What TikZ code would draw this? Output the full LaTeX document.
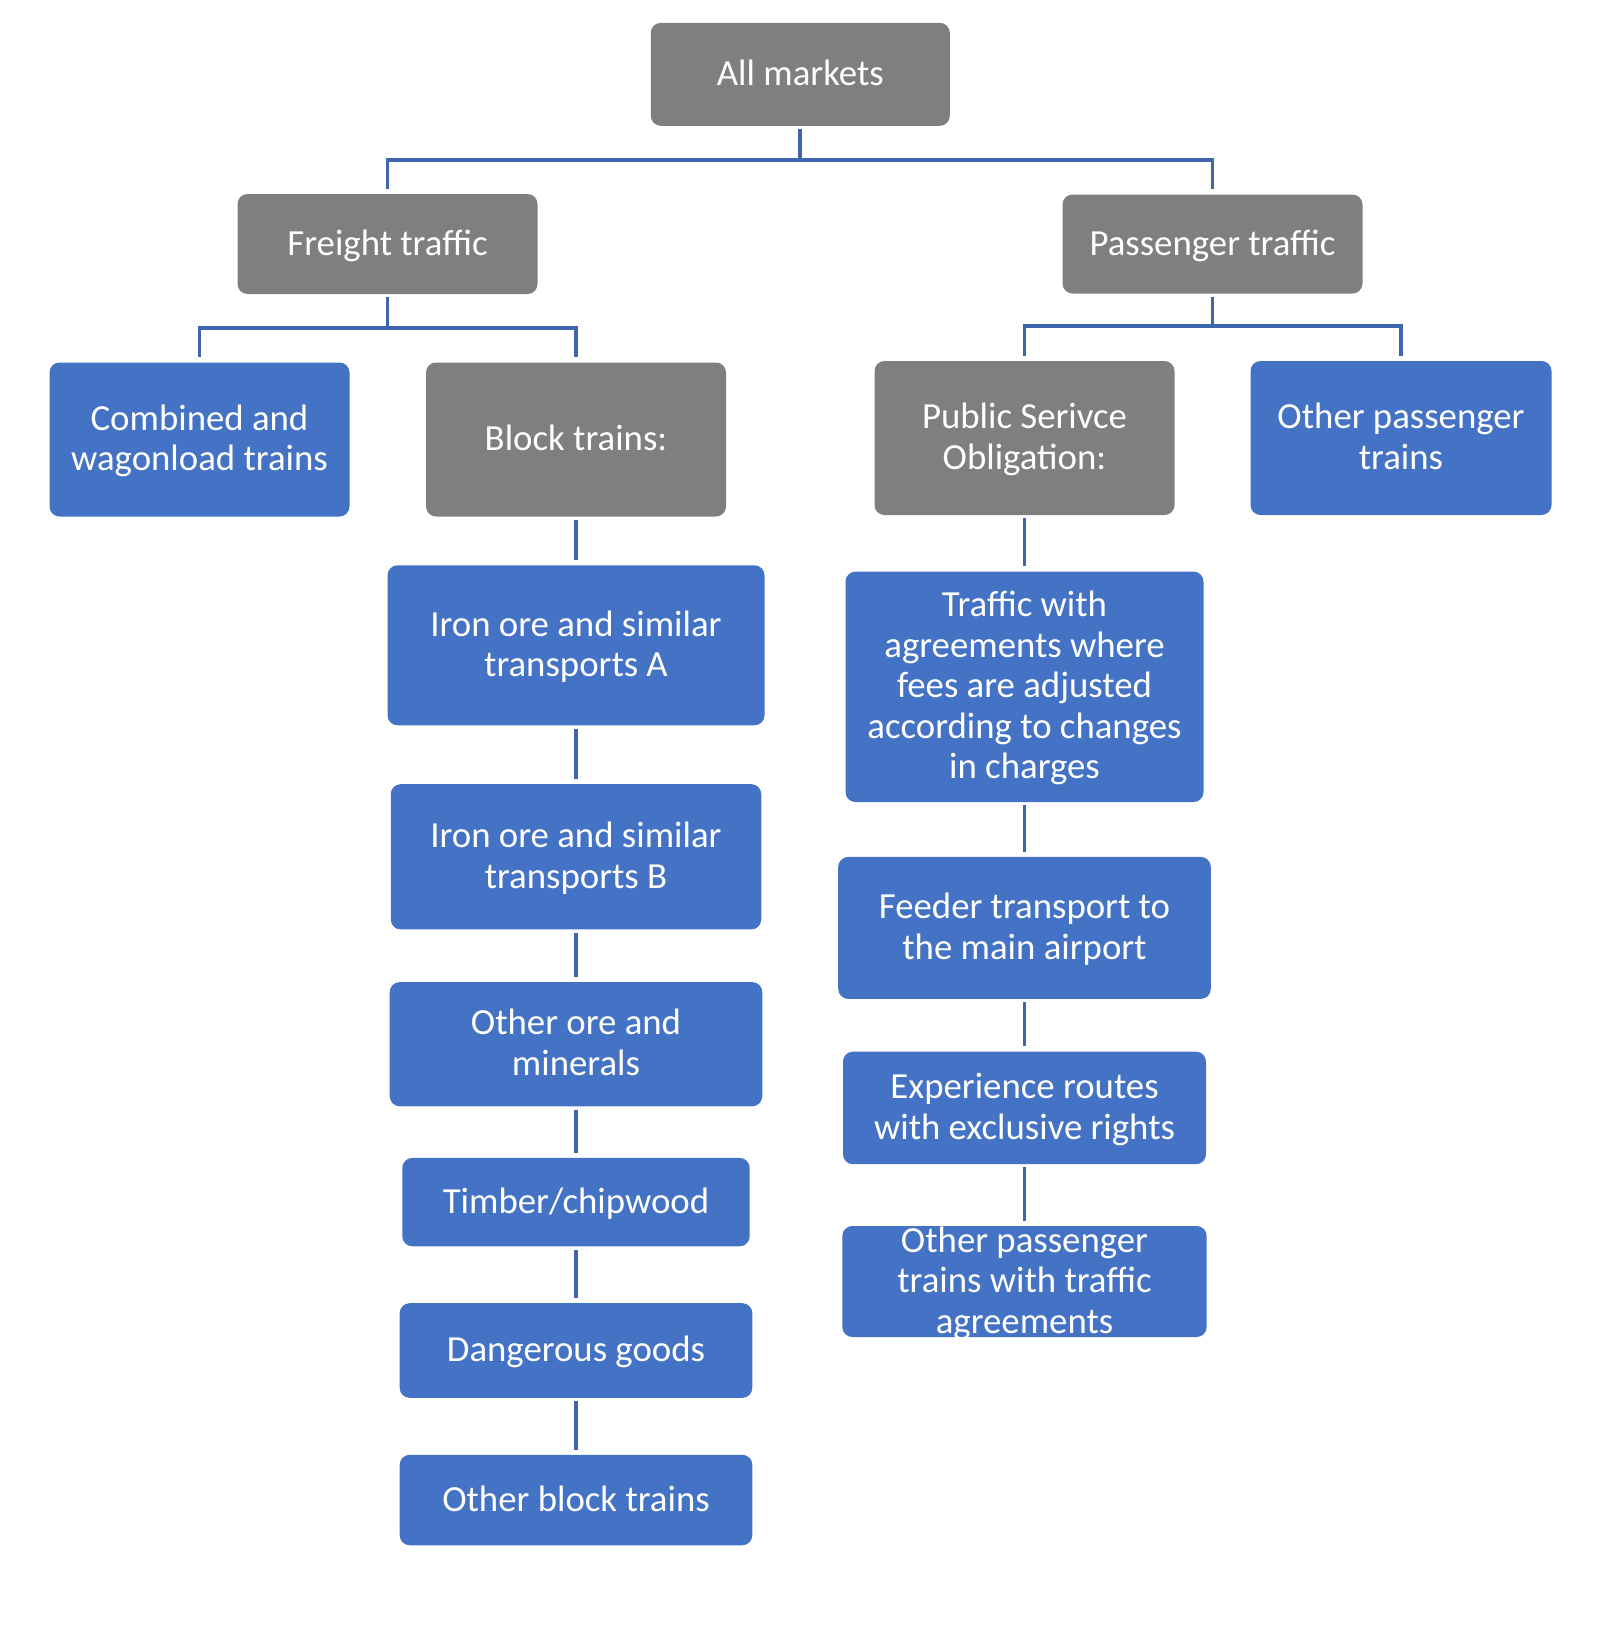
\documentclass[tikz,border=0pt]{standalone}
\usepackage{fontspec}
\setmainfont{Carlito}
\definecolor{boxgray}{HTML}{7F7F7F}
\definecolor{boxblue}{HTML}{4472C4}
\definecolor{linecol}{RGB}{62,102,176}
\newcommand\lnstrut{\rule[-9pt]{0pt}{40pt}}
\newcommand\boxfont{\fontsize{36.8pt}{40.5pt}\selectfont}
\begin{document}
\begin{tikzpicture}[x=1pt,y=-1pt,
  basebox/.style={rounded corners=10pt, inner sep=0pt, text=white, align=center, font=\boxfont, draw=none},
  gbox/.style={basebox, fill=boxgray},
  bbox/.style={basebox, fill=boxblue},
  txt/.style={inner sep=0pt, text=white, align=center, font=\boxfont},
  conn/.style={draw=linecol, line width=3.9pt, line join=miter}]
\useasboundingbox (0,0) rectangle (1600,1650);

% top levels
\node[gbox, minimum width=299pt, minimum height=103pt] (all) at (800.3,74.3) {\lnstrut All markets};
\node[gbox, minimum width=300pt, minimum height=100pt] (freight) at (387.5,244) {\lnstrut Freight traffic};
\node[gbox, minimum width=300pt, minimum height=99pt] (passenger) at (1212.5,244) {\lnstrut Passenger traffic};

% second level
\node[bbox, minimum width=300pt, minimum height=154pt] (combined) at (199.5,439.5) {\lnstrut Combined and\\\lnstrut wagonload trains};
\node[gbox, minimum width=300pt, minimum height=154pt] (block) at (576,439.5) {\lnstrut Block trains:};
\node[gbox, minimum width=300pt, minimum height=154pt] (pso) at (1024.5,438) {\lnstrut Public Serivce\\\lnstrut Obligation:};
\node[bbox, minimum width=301pt, minimum height=154pt] (otherpass) at (1401,438) {\lnstrut Other passenger\\\lnstrut trains};

% block trains chain
\node[bbox, minimum width=377pt, minimum height=160pt] (ironA) at (576,645.3) {\lnstrut Iron ore and similar\\\lnstrut transports A};
\node[bbox, minimum width=370.5pt, minimum height=145.3pt] (ironB) at (576,856.8) {\lnstrut Iron ore and similar\\\lnstrut transports B};
\node[bbox, minimum width=372.6pt, minimum height=124.2pt] (ore) at (576,1044.2) {\lnstrut Other ore and\\\lnstrut minerals};
\node[bbox, minimum width=347.4pt, minimum height=88.4pt] (timber) at (576,1202.1) {\lnstrut Timber/chipwood};
\node[bbox, minimum width=352.6pt, minimum height=94.7pt] (danger) at (576,1350.5) {\lnstrut Dangerous goods};
\node[bbox, minimum width=352.6pt, minimum height=90.5pt] (otherblock) at (576,1500) {\lnstrut Other block trains};

% PSO chain
\node[bbox, minimum width=358pt, minimum height=230.5pt] (trafficw) at (1024.5,686.8) {\lnstrut Traffic with\\\lnstrut agreements where\\\lnstrut fees are adjusted\\\lnstrut according to changes\\\lnstrut in charges};
\node[bbox, minimum width=372.6pt, minimum height=142pt] (feeder) at (1024.5,927.9) {\lnstrut Feeder transport to\\\lnstrut the main airport};
\node[bbox, minimum width=363pt, minimum height=112.6pt] (exper) at (1024.5,1107.9) {\lnstrut Experience routes\\\lnstrut with exclusive rights};
\node[bbox, minimum width=364.3pt, minimum height=111pt] (otherpw) at (1024.5,1281.5) {};
\node[txt] (otherpwtxt) at (otherpw.center) {\lnstrut Other passenger\\\lnstrut trains with traffic\\\lnstrut agreements};

% junctions
\coordinate (j0) at (800.3,160);
\coordinate (jf) at (387.5,328);
\coordinate (jp) at (1212.5,326);

% connectors
\draw[conn] ([yshift=-3pt]all.south) -- (j0);
\draw[conn] ([yshift=5pt]freight.north) |- (j0) -| ([yshift=5pt]passenger.north);
\draw[conn] ([yshift=-3pt]freight.south) -- (jf);
\draw[conn] ([yshift=5pt]combined.north) |- (jf) -| ([yshift=5pt]block.north);
\draw[conn] ([yshift=-3pt]passenger.south) -- (jp);
\draw[conn] ([yshift=5pt]pso.north) |- (jp) -| ([yshift=5pt]otherpass.north);

\draw[conn] ([yshift=-3pt]block.south) -- ([yshift=5pt]ironA.north);
\draw[conn] ([yshift=-3pt]ironA.south) -- ([yshift=5pt]ironB.north);
\draw[conn] ([yshift=-3pt]ironB.south) -- ([yshift=5pt]ore.north);
\draw[conn] ([yshift=-3pt]ore.south) -- ([yshift=5pt]timber.north);
\draw[conn] ([yshift=-3pt]timber.south) -- ([yshift=5pt]danger.north);
\draw[conn] ([yshift=-3pt]danger.south) -- ([yshift=5pt]otherblock.north);

\draw[conn] ([yshift=-3pt]pso.south) -- ([yshift=5pt]trafficw.north);
\draw[conn] ([yshift=-3pt]trafficw.south) -- ([yshift=5pt]feeder.north);
\draw[conn] ([yshift=-3pt]feeder.south) -- ([yshift=5pt]exper.north);
\draw[conn] ([yshift=-3pt]exper.south) -- ([yshift=5pt]otherpw.north);
\end{tikzpicture}
\end{document}
